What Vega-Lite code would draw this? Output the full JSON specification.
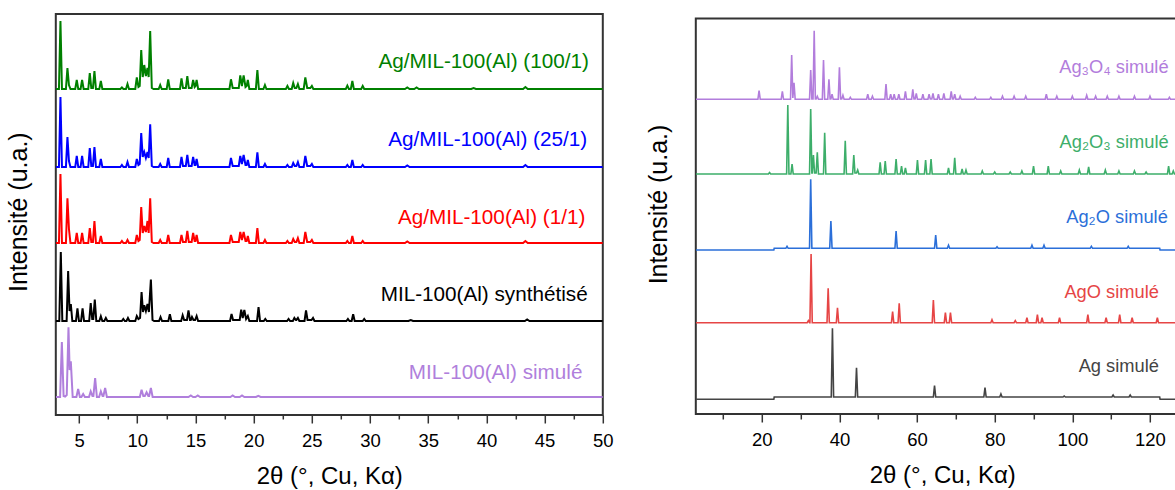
{
"$schema":"https://vega.github.io/schema/vega-lite/v6.json",
"padding":{"left":5.8,"top":13,"right":0,"bottom":0},
"spacing":93,
"bounds":"flush",
"config":{
 "font":"Liberation Sans",
 "axis":{"labelFont":"Liberation Sans","titleFont":"Liberation Sans","labelFontSize":18.5,"titleFontSize":24,"titleFontWeight":"normal","labelColor":"#000","titleColor":"#000","tickColor":"#333","tickWidth":1.5,"grid":false},
 "view":{"stroke":"#333","strokeWidth":2}
},
"datasets":{
"left":[
{"s":"g","x":3,"y":326},{"s":"g","x":3.27,"y":326},{"s":"g","x":3.4,"y":394},{"s":"g","x":3.53,"y":326},{"s":"g","x":3.87,"y":326},{"s":"g","x":4.0,"y":347},{"s":"g","x":4.13,"y":330},{"s":"g","x":4.26,"y":326},{"s":"g","x":4.67,"y":326},{"s":"g","x":4.8,"y":335},{"s":"g","x":4.93,"y":326},{"s":"g","x":5.13,"y":326},{"s":"g","x":5.26,"y":335},{"s":"g","x":5.39,"y":326},{"s":"g","x":5.79,"y":326},{"s":"g","x":5.92,"y":342},{"s":"g","x":6.05,"y":327},{"s":"g","x":6.19,"y":327},{"s":"g","x":6.32,"y":344},{"s":"g","x":6.45,"y":326},{"s":"g","x":6.74,"y":326},{"s":"g","x":6.87,"y":334},{"s":"g","x":7.0,"y":326},{"s":"g","x":8.55,"y":326},{"s":"g","x":8.68,"y":327.5},{"s":"g","x":8.81,"y":326},{"s":"g","x":9.03,"y":326},{"s":"g","x":9.16,"y":331},{"s":"g","x":9.29,"y":326},{"s":"g","x":9.83,"y":326},{"s":"g","x":9.96,"y":337.7},{"s":"g","x":10.1,"y":328},{"s":"g","x":10.21,"y":329},{"s":"g","x":10.34,"y":365},{"s":"g","x":10.47,"y":338},{"s":"g","x":10.6,"y":350},{"s":"g","x":10.74,"y":339},{"s":"g","x":10.88,"y":347},{"s":"g","x":10.98,"y":338},{"s":"g","x":11.11,"y":384},{"s":"g","x":11.25,"y":327},{"s":"g","x":11.4,"y":326},{"s":"g","x":11.84,"y":326},{"s":"g","x":11.97,"y":330},{"s":"g","x":12.1,"y":326},{"s":"g","x":12.53,"y":326},{"s":"g","x":12.66,"y":335.7},{"s":"g","x":12.79,"y":326},{"s":"g","x":13.67,"y":326},{"s":"g","x":13.8,"y":336.7},{"s":"g","x":13.93,"y":327},{"s":"g","x":14.17,"y":327},{"s":"g","x":14.3,"y":339},{"s":"g","x":14.43,"y":327},{"s":"g","x":14.67,"y":327},{"s":"g","x":14.8,"y":335},{"s":"g","x":14.93,"y":328},{"s":"g","x":15.0,"y":329},{"s":"g","x":15.1,"y":335},{"s":"g","x":15.23,"y":326},{"s":"g","x":17.92,"y":326},{"s":"g","x":18.05,"y":335.7},{"s":"g","x":18.2,"y":327},{"s":"g","x":18.72,"y":327},{"s":"g","x":18.85,"y":339.7},{"s":"g","x":18.99,"y":329},{"s":"g","x":19.14,"y":339.7},{"s":"g","x":19.3,"y":328},{"s":"g","x":19.4,"y":329},{"s":"g","x":19.5,"y":335},{"s":"g","x":19.63,"y":326},{"s":"g","x":20.19,"y":326},{"s":"g","x":20.32,"y":345},{"s":"g","x":20.45,"y":326},{"s":"g","x":20.84,"y":326},{"s":"g","x":20.97,"y":330},{"s":"g","x":21.1,"y":326},{"s":"g","x":22.77,"y":326},{"s":"g","x":22.9,"y":329},{"s":"g","x":23.03,"y":326},{"s":"g","x":23.27,"y":326},{"s":"g","x":23.4,"y":332},{"s":"g","x":23.53,"y":327},{"s":"g","x":23.67,"y":327},{"s":"g","x":23.8,"y":331},{"s":"g","x":23.93,"y":326},{"s":"g","x":24.3,"y":326},{"s":"g","x":24.44,"y":337.7},{"s":"g","x":24.6,"y":327},{"s":"g","x":24.87,"y":327},{"s":"g","x":25.0,"y":329},{"s":"g","x":25.13,"y":326},{"s":"g","x":27.92,"y":326},{"s":"g","x":28.05,"y":329.3},{"s":"g","x":28.18,"y":326},{"s":"g","x":28.35,"y":326},{"s":"g","x":28.48,"y":334},{"s":"g","x":28.61,"y":326},{"s":"g","x":29.24,"y":326},{"s":"g","x":29.37,"y":329},{"s":"g","x":29.5,"y":326},{"s":"g","x":33,"y":326},{"s":"g","x":33.2,"y":327.5},{"s":"g","x":33.4,"y":326},{"s":"g","x":33.8,"y":326},{"s":"g","x":34,"y":327.5},{"s":"g","x":34.2,"y":326},{"s":"g","x":38.7,"y":326},{"s":"g","x":38.9,"y":327},{"s":"g","x":39.1,"y":326},{"s":"g","x":43.15,"y":326},{"s":"g","x":43.35,"y":328},{"s":"g","x":43.55,"y":326},{"s":"g","x":50,"y":326},
{"s":"b","x":3,"y":248},{"s":"b","x":3.27,"y":248},{"s":"b","x":3.4,"y":318},{"s":"b","x":3.53,"y":248},{"s":"b","x":3.87,"y":248},{"s":"b","x":4.0,"y":278},{"s":"b","x":4.13,"y":254},{"s":"b","x":4.26,"y":248},{"s":"b","x":4.67,"y":248},{"s":"b","x":4.8,"y":259},{"s":"b","x":4.93,"y":248},{"s":"b","x":5.13,"y":248},{"s":"b","x":5.26,"y":259},{"s":"b","x":5.39,"y":248},{"s":"b","x":5.79,"y":248},{"s":"b","x":5.92,"y":267},{"s":"b","x":6.05,"y":249},{"s":"b","x":6.19,"y":249},{"s":"b","x":6.32,"y":268},{"s":"b","x":6.45,"y":248},{"s":"b","x":6.74,"y":248},{"s":"b","x":6.87,"y":256},{"s":"b","x":7.0,"y":248},{"s":"b","x":8.55,"y":248},{"s":"b","x":8.68,"y":250},{"s":"b","x":8.81,"y":248},{"s":"b","x":9.03,"y":248},{"s":"b","x":9.16,"y":253},{"s":"b","x":9.29,"y":248},{"s":"b","x":9.83,"y":248},{"s":"b","x":9.96,"y":256},{"s":"b","x":10.1,"y":250},{"s":"b","x":10.21,"y":251},{"s":"b","x":10.34,"y":282},{"s":"b","x":10.47,"y":258},{"s":"b","x":10.6,"y":263},{"s":"b","x":10.74,"y":257},{"s":"b","x":10.88,"y":263},{"s":"b","x":10.98,"y":257},{"s":"b","x":11.11,"y":290.7},{"s":"b","x":11.25,"y":249},{"s":"b","x":11.4,"y":248},{"s":"b","x":11.84,"y":248},{"s":"b","x":11.97,"y":251},{"s":"b","x":12.1,"y":248},{"s":"b","x":12.53,"y":248},{"s":"b","x":12.66,"y":257},{"s":"b","x":12.79,"y":248},{"s":"b","x":13.67,"y":248},{"s":"b","x":13.8,"y":258},{"s":"b","x":13.93,"y":249},{"s":"b","x":14.17,"y":249},{"s":"b","x":14.3,"y":260},{"s":"b","x":14.43,"y":249},{"s":"b","x":14.67,"y":249},{"s":"b","x":14.8,"y":258},{"s":"b","x":14.93,"y":250},{"s":"b","x":15.0,"y":250},{"s":"b","x":15.1,"y":256},{"s":"b","x":15.23,"y":248},{"s":"b","x":17.92,"y":248},{"s":"b","x":18.05,"y":257},{"s":"b","x":18.2,"y":249},{"s":"b","x":18.72,"y":249},{"s":"b","x":18.85,"y":259},{"s":"b","x":18.99,"y":251},{"s":"b","x":19.14,"y":260},{"s":"b","x":19.3,"y":250},{"s":"b","x":19.4,"y":250},{"s":"b","x":19.5,"y":255},{"s":"b","x":19.63,"y":248},{"s":"b","x":20.19,"y":248},{"s":"b","x":20.32,"y":262.7},{"s":"b","x":20.45,"y":248},{"s":"b","x":20.84,"y":248},{"s":"b","x":20.97,"y":251},{"s":"b","x":21.1,"y":248},{"s":"b","x":22.77,"y":248},{"s":"b","x":22.9,"y":250},{"s":"b","x":23.03,"y":248},{"s":"b","x":23.27,"y":248},{"s":"b","x":23.4,"y":252},{"s":"b","x":23.53,"y":249},{"s":"b","x":23.67,"y":249},{"s":"b","x":23.8,"y":253},{"s":"b","x":23.93,"y":248},{"s":"b","x":24.3,"y":248},{"s":"b","x":24.44,"y":259},{"s":"b","x":24.6,"y":249},{"s":"b","x":24.87,"y":249},{"s":"b","x":25.0,"y":251},{"s":"b","x":25.13,"y":248},{"s":"b","x":27.92,"y":248},{"s":"b","x":28.05,"y":250},{"s":"b","x":28.18,"y":248},{"s":"b","x":28.35,"y":248},{"s":"b","x":28.48,"y":255},{"s":"b","x":28.61,"y":248},{"s":"b","x":29.24,"y":248},{"s":"b","x":29.37,"y":250},{"s":"b","x":29.5,"y":248},{"s":"b","x":33,"y":248},{"s":"b","x":33.2,"y":249.5},{"s":"b","x":33.4,"y":248},{"s":"b","x":43.15,"y":248},{"s":"b","x":43.35,"y":250},{"s":"b","x":43.55,"y":248},{"s":"b","x":50,"y":248},
{"s":"r","x":3,"y":172},{"s":"r","x":3.27,"y":172},{"s":"r","x":3.4,"y":241},{"s":"r","x":3.53,"y":172},{"s":"r","x":3.87,"y":172},{"s":"r","x":4.0,"y":216.7},{"s":"r","x":4.13,"y":186},{"s":"r","x":4.26,"y":172},{"s":"r","x":4.67,"y":172},{"s":"r","x":4.8,"y":182},{"s":"r","x":4.93,"y":172},{"s":"r","x":5.13,"y":172},{"s":"r","x":5.26,"y":182},{"s":"r","x":5.39,"y":172},{"s":"r","x":5.79,"y":172},{"s":"r","x":5.92,"y":187},{"s":"r","x":6.05,"y":173},{"s":"r","x":6.19,"y":173},{"s":"r","x":6.32,"y":194},{"s":"r","x":6.45,"y":172},{"s":"r","x":6.74,"y":172},{"s":"r","x":6.87,"y":179},{"s":"r","x":7.0,"y":172},{"s":"r","x":8.55,"y":172},{"s":"r","x":8.68,"y":174},{"s":"r","x":8.81,"y":172},{"s":"r","x":9.03,"y":172},{"s":"r","x":9.16,"y":175},{"s":"r","x":9.29,"y":172},{"s":"r","x":9.83,"y":172},{"s":"r","x":9.96,"y":180},{"s":"r","x":10.1,"y":174},{"s":"r","x":10.21,"y":175},{"s":"r","x":10.34,"y":208},{"s":"r","x":10.47,"y":182},{"s":"r","x":10.6,"y":189},{"s":"r","x":10.74,"y":183},{"s":"r","x":10.88,"y":194},{"s":"r","x":10.98,"y":182},{"s":"r","x":11.11,"y":216.7},{"s":"r","x":11.25,"y":173},{"s":"r","x":11.4,"y":172},{"s":"r","x":11.84,"y":172},{"s":"r","x":11.97,"y":175},{"s":"r","x":12.1,"y":172},{"s":"r","x":12.53,"y":172},{"s":"r","x":12.66,"y":180},{"s":"r","x":12.79,"y":172},{"s":"r","x":13.67,"y":172},{"s":"r","x":13.8,"y":180},{"s":"r","x":13.93,"y":173},{"s":"r","x":14.17,"y":173},{"s":"r","x":14.3,"y":184},{"s":"r","x":14.43,"y":173},{"s":"r","x":14.67,"y":173},{"s":"r","x":14.8,"y":182},{"s":"r","x":14.93,"y":174},{"s":"r","x":15.0,"y":174},{"s":"r","x":15.1,"y":180},{"s":"r","x":15.23,"y":172},{"s":"r","x":17.92,"y":172},{"s":"r","x":18.05,"y":180},{"s":"r","x":18.2,"y":173},{"s":"r","x":18.72,"y":173},{"s":"r","x":18.85,"y":183},{"s":"r","x":18.99,"y":175},{"s":"r","x":19.14,"y":183},{"s":"r","x":19.3,"y":174},{"s":"r","x":19.4,"y":174},{"s":"r","x":19.5,"y":179},{"s":"r","x":19.63,"y":172},{"s":"r","x":20.19,"y":172},{"s":"r","x":20.32,"y":187},{"s":"r","x":20.45,"y":172},{"s":"r","x":20.84,"y":172},{"s":"r","x":20.97,"y":175},{"s":"r","x":21.1,"y":172},{"s":"r","x":22.77,"y":172},{"s":"r","x":22.9,"y":174},{"s":"r","x":23.03,"y":172},{"s":"r","x":23.27,"y":172},{"s":"r","x":23.4,"y":176},{"s":"r","x":23.53,"y":173},{"s":"r","x":23.67,"y":173},{"s":"r","x":23.8,"y":177},{"s":"r","x":23.93,"y":172},{"s":"r","x":24.3,"y":172},{"s":"r","x":24.44,"y":183},{"s":"r","x":24.6,"y":173},{"s":"r","x":24.87,"y":173},{"s":"r","x":25.0,"y":175},{"s":"r","x":25.13,"y":172},{"s":"r","x":27.92,"y":172},{"s":"r","x":28.05,"y":174},{"s":"r","x":28.18,"y":172},{"s":"r","x":28.35,"y":172},{"s":"r","x":28.48,"y":179},{"s":"r","x":28.61,"y":172},{"s":"r","x":29.24,"y":172},{"s":"r","x":29.37,"y":174},{"s":"r","x":29.5,"y":172},{"s":"r","x":33,"y":172},{"s":"r","x":33.2,"y":173.5},{"s":"r","x":33.4,"y":172},{"s":"r","x":43.15,"y":172},{"s":"r","x":43.35,"y":174},{"s":"r","x":43.55,"y":172},{"s":"r","x":50,"y":172},
{"s":"k","x":3,"y":94},{"s":"k","x":3.3,"y":94},{"s":"k","x":3.43,"y":163},{"s":"k","x":3.56,"y":94},{"s":"k","x":3.93,"y":94},{"s":"k","x":4.06,"y":144},{"s":"k","x":4.18,"y":104},{"s":"k","x":4.29,"y":111},{"s":"k","x":4.42,"y":94},{"s":"k","x":4.73,"y":94},{"s":"k","x":4.86,"y":106.7},{"s":"k","x":4.99,"y":94},{"s":"k","x":5.17,"y":94},{"s":"k","x":5.3,"y":106.7},{"s":"k","x":5.43,"y":94},{"s":"k","x":5.87,"y":94},{"s":"k","x":6.0,"y":112},{"s":"k","x":6.13,"y":96},{"s":"k","x":6.22,"y":96},{"s":"k","x":6.35,"y":115.4},{"s":"k","x":6.48,"y":94},{"s":"k","x":6.74,"y":94},{"s":"k","x":6.87,"y":98.7},{"s":"k","x":7.0,"y":94},{"s":"k","x":7.17,"y":94},{"s":"k","x":7.3,"y":97},{"s":"k","x":7.43,"y":94},{"s":"k","x":8.67,"y":94},{"s":"k","x":8.8,"y":96},{"s":"k","x":8.93,"y":94},{"s":"k","x":9.07,"y":94},{"s":"k","x":9.2,"y":97},{"s":"k","x":9.33,"y":94},{"s":"k","x":9.83,"y":94},{"s":"k","x":9.96,"y":99},{"s":"k","x":10.1,"y":96},{"s":"k","x":10.24,"y":97},{"s":"k","x":10.37,"y":123},{"s":"k","x":10.49,"y":103},{"s":"k","x":10.6,"y":109.7},{"s":"k","x":10.74,"y":104},{"s":"k","x":10.88,"y":111},{"s":"k","x":11.0,"y":103},{"s":"k","x":11.17,"y":135.4},{"s":"k","x":11.31,"y":95},{"s":"k","x":11.45,"y":94},{"s":"k","x":11.87,"y":94},{"s":"k","x":12.0,"y":98},{"s":"k","x":12.13,"y":94},{"s":"k","x":12.67,"y":94},{"s":"k","x":12.8,"y":100.7},{"s":"k","x":12.93,"y":94},{"s":"k","x":13.77,"y":94},{"s":"k","x":13.9,"y":99.7},{"s":"k","x":14.03,"y":95},{"s":"k","x":14.27,"y":95},{"s":"k","x":14.4,"y":104.7},{"s":"k","x":14.53,"y":95},{"s":"k","x":14.6,"y":95},{"s":"k","x":14.7,"y":98},{"s":"k","x":14.83,"y":95},{"s":"k","x":14.97,"y":95},{"s":"k","x":15.1,"y":99},{"s":"k","x":15.23,"y":94},{"s":"k","x":17.97,"y":94},{"s":"k","x":18.1,"y":101},{"s":"k","x":18.23,"y":95},{"s":"k","x":18.8,"y":95},{"s":"k","x":18.93,"y":105.3},{"s":"k","x":19.06,"y":97},{"s":"k","x":19.2,"y":105},{"s":"k","x":19.35,"y":96},{"s":"k","x":19.5,"y":99},{"s":"k","x":19.63,"y":94},{"s":"k","x":20.29,"y":94},{"s":"k","x":20.42,"y":108},{"s":"k","x":20.55,"y":94},{"s":"k","x":20.87,"y":94},{"s":"k","x":21.0,"y":96},{"s":"k","x":21.13,"y":94},{"s":"k","x":22.87,"y":94},{"s":"k","x":23.0,"y":96},{"s":"k","x":23.13,"y":94},{"s":"k","x":23.37,"y":94},{"s":"k","x":23.5,"y":97},{"s":"k","x":23.63,"y":95},{"s":"k","x":23.67,"y":95},{"s":"k","x":23.8,"y":97},{"s":"k","x":23.93,"y":94},{"s":"k","x":24.37,"y":94},{"s":"k","x":24.5,"y":104.7},{"s":"k","x":24.63,"y":95},{"s":"k","x":24.97,"y":95},{"s":"k","x":25.1,"y":97},{"s":"k","x":25.23,"y":94},{"s":"k","x":27.97,"y":94},{"s":"k","x":28.1,"y":96},{"s":"k","x":28.23,"y":94},{"s":"k","x":28.42,"y":94},{"s":"k","x":28.55,"y":100.7},{"s":"k","x":28.68,"y":94},{"s":"k","x":29.37,"y":94},{"s":"k","x":29.5,"y":96},{"s":"k","x":29.63,"y":94},{"s":"k","x":33.3,"y":94},{"s":"k","x":33.5,"y":95},{"s":"k","x":33.7,"y":94},{"s":"k","x":43.3,"y":94},{"s":"k","x":43.5,"y":95.5},{"s":"k","x":43.7,"y":94},{"s":"k","x":50,"y":94},
{"s":"p","x":3,"y":18},{"s":"p","x":3.37,"y":18},{"s":"p","x":3.52,"y":73},{"s":"p","x":3.67,"y":19},{"s":"p","x":3.8,"y":18.5},{"s":"p","x":3.94,"y":20},{"s":"p","x":4.09,"y":87.7},{"s":"p","x":4.19,"y":45},{"s":"p","x":4.29,"y":53.6},{"s":"p","x":4.45,"y":18},{"s":"p","x":4.77,"y":18},{"s":"p","x":4.92,"y":26},{"s":"p","x":5.07,"y":18},{"s":"p","x":5.2,"y":18},{"s":"p","x":5.35,"y":21},{"s":"p","x":5.5,"y":18},{"s":"p","x":5.85,"y":18},{"s":"p","x":6.0,"y":23.6},{"s":"p","x":6.15,"y":19},{"s":"p","x":6.23,"y":19},{"s":"p","x":6.38,"y":37},{"s":"p","x":6.53,"y":18},{"s":"p","x":6.72,"y":18},{"s":"p","x":6.87,"y":23.7},{"s":"p","x":7.02,"y":19},{"s":"p","x":7.09,"y":19},{"s":"p","x":7.24,"y":27},{"s":"p","x":7.39,"y":18},{"s":"p","x":10.22,"y":18},{"s":"p","x":10.37,"y":25.3},{"s":"p","x":10.52,"y":19},{"s":"p","x":10.65,"y":19},{"s":"p","x":10.8,"y":22.6},{"s":"p","x":10.95,"y":19},{"s":"p","x":11.02,"y":19},{"s":"p","x":11.17,"y":27},{"s":"p","x":11.32,"y":18},{"s":"p","x":14.4,"y":18},{"s":"p","x":14.6,"y":19.5},{"s":"p","x":14.8,"y":18},{"s":"p","x":15.0,"y":18},{"s":"p","x":15.2,"y":19.5},{"s":"p","x":15.4,"y":18},{"s":"p","x":18.0,"y":18},{"s":"p","x":18.2,"y":19.5},{"s":"p","x":18.4,"y":18},{"s":"p","x":18.8,"y":18},{"s":"p","x":19.0,"y":19.5},{"s":"p","x":19.2,"y":18},{"s":"p","x":20.2,"y":18},{"s":"p","x":20.4,"y":19.2},{"s":"p","x":20.6,"y":18},{"s":"p","x":50,"y":18}
],
"right":[
{"s":"a4","x":3,"y":314.7},{"s":"a4","x":19.0,"y":314.7},{"s":"a4","x":19.3,"y":323.3},{"s":"a4","x":19.6,"y":314.7},{"s":"a4","x":25.0,"y":314.7},{"s":"a4","x":25.3,"y":322.7},{"s":"a4","x":25.6,"y":314.7},{"s":"a4","x":27.4,"y":314.7},{"s":"a4","x":27.7,"y":359},{"s":"a4","x":28.0,"y":316},{"s":"a4","x":28.3,"y":331.3},{"s":"a4","x":28.6,"y":314.7},{"s":"a4","x":32.3,"y":314.7},{"s":"a4","x":32.6,"y":344},{"s":"a4","x":32.9,"y":315},{"s":"a4","x":33.2,"y":315},{"s":"a4","x":33.5,"y":383.3},{"s":"a4","x":33.8,"y":315},{"s":"a4","x":34.0,"y":315},{"s":"a4","x":34.3,"y":317.7},{"s":"a4","x":34.6,"y":314.7},{"s":"a4","x":35.6,"y":314.7},{"s":"a4","x":35.9,"y":354},{"s":"a4","x":36.2,"y":314.7},{"s":"a4","x":37.0,"y":314.7},{"s":"a4","x":37.3,"y":334.7},{"s":"a4","x":37.6,"y":315},{"s":"a4","x":37.8,"y":315},{"s":"a4","x":38.1,"y":319.7},{"s":"a4","x":38.4,"y":314.7},{"s":"a4","x":39.7,"y":314.7},{"s":"a4","x":40.0,"y":346.7},{"s":"a4","x":40.3,"y":315},{"s":"a4","x":40.6,"y":315},{"s":"a4","x":40.9,"y":318.7},{"s":"a4","x":41.2,"y":314.7},{"s":"a4","x":42.5,"y":314.7},{"s":"a4","x":42.8,"y":316.7},{"s":"a4","x":43.1,"y":314.7},{"s":"a4","x":47.0,"y":314.7},{"s":"a4","x":47.3,"y":319.7},{"s":"a4","x":47.6,"y":314.7},{"s":"a4","x":48.2,"y":314.7},{"s":"a4","x":48.5,"y":317.7},{"s":"a4","x":48.8,"y":314.7},{"s":"a4","x":51.7,"y":314.7},{"s":"a4","x":52.0,"y":330},{"s":"a4","x":52.3,"y":314.7},{"s":"a4","x":52.9,"y":314.7},{"s":"a4","x":53.2,"y":319.7},{"s":"a4","x":53.5,"y":314.7},{"s":"a4","x":53.8,"y":314.7},{"s":"a4","x":54.1,"y":319.7},{"s":"a4","x":54.4,"y":314.7},{"s":"a4","x":55.0,"y":314.7},{"s":"a4","x":55.3,"y":319.7},{"s":"a4","x":55.6,"y":314.7},{"s":"a4","x":56.7,"y":314.7},{"s":"a4","x":57.0,"y":322.7},{"s":"a4","x":57.3,"y":314.7},{"s":"a4","x":58.6,"y":314.7},{"s":"a4","x":58.9,"y":324.7},{"s":"a4","x":59.2,"y":315},{"s":"a4","x":59.5,"y":315},{"s":"a4","x":59.8,"y":320.7},{"s":"a4","x":60.1,"y":314.7},{"s":"a4","x":61.2,"y":314.7},{"s":"a4","x":61.5,"y":319.7},{"s":"a4","x":61.8,"y":314.7},{"s":"a4","x":62.8,"y":314.7},{"s":"a4","x":63.1,"y":319.7},{"s":"a4","x":63.4,"y":315},{"s":"a4","x":63.8,"y":315},{"s":"a4","x":64.1,"y":320.7},{"s":"a4","x":64.4,"y":314.7},{"s":"a4","x":65.2,"y":314.7},{"s":"a4","x":65.5,"y":319.7},{"s":"a4","x":65.8,"y":314.7},{"s":"a4","x":66.6,"y":314.7},{"s":"a4","x":66.9,"y":320.7},{"s":"a4","x":67.2,"y":314.7},{"s":"a4","x":68.5,"y":314.7},{"s":"a4","x":68.8,"y":322.7},{"s":"a4","x":69.1,"y":315},{"s":"a4","x":69.4,"y":315},{"s":"a4","x":69.7,"y":319.7},{"s":"a4","x":70.0,"y":314.7},{"s":"a4","x":70.8,"y":314.7},{"s":"a4","x":71.1,"y":317.7},{"s":"a4","x":71.4,"y":314.7},{"s":"a4","x":74.7,"y":314.7},{"s":"a4","x":75,"y":316.7},{"s":"a4","x":75.3,"y":314.7},{"s":"a4","x":78.7,"y":314.7},{"s":"a4","x":79,"y":316.7},{"s":"a4","x":79.3,"y":314.7},{"s":"a4","x":81.7,"y":314.7},{"s":"a4","x":82,"y":317.7},{"s":"a4","x":82.3,"y":314.7},{"s":"a4","x":84.7,"y":314.7},{"s":"a4","x":85,"y":317.7},{"s":"a4","x":85.3,"y":314.7},{"s":"a4","x":87.7,"y":314.7},{"s":"a4","x":88,"y":317.7},{"s":"a4","x":88.3,"y":314.7},{"s":"a4","x":93.0,"y":314.7},{"s":"a4","x":93.3,"y":319.7},{"s":"a4","x":93.6,"y":314.7},{"s":"a4","x":95.7,"y":314.7},{"s":"a4","x":96,"y":317.7},{"s":"a4","x":96.3,"y":314.7},{"s":"a4","x":99.7,"y":314.7},{"s":"a4","x":100,"y":317.7},{"s":"a4","x":100.3,"y":314.7},{"s":"a4","x":103.4,"y":314.7},{"s":"a4","x":103.7,"y":318.7},{"s":"a4","x":104.0,"y":314.7},{"s":"a4","x":105.7,"y":314.7},{"s":"a4","x":106,"y":317.7},{"s":"a4","x":106.3,"y":314.7},{"s":"a4","x":108.7,"y":314.7},{"s":"a4","x":109,"y":317.7},{"s":"a4","x":109.3,"y":314.7},{"s":"a4","x":111.7,"y":314.7},{"s":"a4","x":112,"y":317.7},{"s":"a4","x":112.3,"y":314.7},{"s":"a4","x":115.7,"y":314.7},{"s":"a4","x":116,"y":317.7},{"s":"a4","x":116.3,"y":314.7},{"s":"a4","x":119.7,"y":314.7},{"s":"a4","x":120,"y":317.7},{"s":"a4","x":120.3,"y":314.7},{"s":"a4","x":124.7,"y":314.7},{"s":"a4","x":125,"y":316.7},{"s":"a4","x":125.3,"y":314.7},{"s":"a4","x":130,"y":314.7},
{"s":"a3","x":3,"y":240},{"s":"a3","x":21.7,"y":240},{"s":"a3","x":22.0,"y":241.5},{"s":"a3","x":22.3,"y":240},{"s":"a3","x":26.4,"y":240},{"s":"a3","x":26.7,"y":309},{"s":"a3","x":27.0,"y":240},{"s":"a3","x":27.5,"y":240},{"s":"a3","x":27.8,"y":250},{"s":"a3","x":28.1,"y":240},{"s":"a3","x":32.3,"y":240},{"s":"a3","x":32.6,"y":305},{"s":"a3","x":32.9,"y":241},{"s":"a3","x":33.0,"y":241},{"s":"a3","x":33.3,"y":259},{"s":"a3","x":33.6,"y":241},{"s":"a3","x":34.0,"y":241},{"s":"a3","x":34.3,"y":261.7},{"s":"a3","x":34.6,"y":240},{"s":"a3","x":35.9,"y":240},{"s":"a3","x":36.2,"y":281.3},{"s":"a3","x":36.5,"y":240},{"s":"a3","x":41.2,"y":240},{"s":"a3","x":41.5,"y":273.3},{"s":"a3","x":41.8,"y":240},{"s":"a3","x":43.4,"y":240},{"s":"a3","x":43.7,"y":259},{"s":"a3","x":44.0,"y":241},{"s":"a3","x":44.4,"y":241},{"s":"a3","x":44.7,"y":244},{"s":"a3","x":45.0,"y":240},{"s":"a3","x":50.2,"y":240},{"s":"a3","x":50.5,"y":251.7},{"s":"a3","x":50.8,"y":240},{"s":"a3","x":51.5,"y":240},{"s":"a3","x":51.8,"y":253},{"s":"a3","x":52.1,"y":240},{"s":"a3","x":54.3,"y":240},{"s":"a3","x":54.6,"y":255},{"s":"a3","x":54.9,"y":240},{"s":"a3","x":55.7,"y":240},{"s":"a3","x":56.0,"y":248},{"s":"a3","x":56.3,"y":240},{"s":"a3","x":56.7,"y":240},{"s":"a3","x":57.0,"y":246},{"s":"a3","x":57.3,"y":240},{"s":"a3","x":59.8,"y":240},{"s":"a3","x":60.1,"y":254},{"s":"a3","x":60.4,"y":240},{"s":"a3","x":61.9,"y":240},{"s":"a3","x":62.2,"y":254},{"s":"a3","x":62.5,"y":240},{"s":"a3","x":63.3,"y":240},{"s":"a3","x":63.6,"y":255},{"s":"a3","x":63.9,"y":240},{"s":"a3","x":67.8,"y":240},{"s":"a3","x":68.1,"y":246},{"s":"a3","x":68.4,"y":240},{"s":"a3","x":69.4,"y":240},{"s":"a3","x":69.7,"y":256.3},{"s":"a3","x":70.0,"y":240},{"s":"a3","x":71.3,"y":240},{"s":"a3","x":71.6,"y":245},{"s":"a3","x":71.9,"y":240},{"s":"a3","x":72.3,"y":240},{"s":"a3","x":72.6,"y":244},{"s":"a3","x":72.9,"y":240},{"s":"a3","x":76.5,"y":240},{"s":"a3","x":76.8,"y":243},{"s":"a3","x":77.1,"y":240},{"s":"a3","x":79.7,"y":240},{"s":"a3","x":80,"y":242},{"s":"a3","x":80.3,"y":240},{"s":"a3","x":83.7,"y":240},{"s":"a3","x":84,"y":242},{"s":"a3","x":84.3,"y":240},{"s":"a3","x":86.7,"y":240},{"s":"a3","x":87,"y":243},{"s":"a3","x":87.3,"y":240},{"s":"a3","x":89.7,"y":240},{"s":"a3","x":90.0,"y":248},{"s":"a3","x":90.3,"y":240},{"s":"a3","x":93.5,"y":240},{"s":"a3","x":93.8,"y":248},{"s":"a3","x":94.1,"y":240},{"s":"a3","x":96.7,"y":240},{"s":"a3","x":97,"y":243},{"s":"a3","x":97.3,"y":240},{"s":"a3","x":101.5,"y":240},{"s":"a3","x":101.8,"y":244},{"s":"a3","x":102.1,"y":240},{"s":"a3","x":103.9,"y":240},{"s":"a3","x":104.2,"y":247},{"s":"a3","x":104.5,"y":240},{"s":"a3","x":108.2,"y":240},{"s":"a3","x":108.5,"y":244},{"s":"a3","x":108.8,"y":240},{"s":"a3","x":111.7,"y":240},{"s":"a3","x":112,"y":243},{"s":"a3","x":112.3,"y":240},{"s":"a3","x":115.7,"y":240},{"s":"a3","x":116,"y":243},{"s":"a3","x":116.3,"y":240},{"s":"a3","x":118.7,"y":240},{"s":"a3","x":119,"y":242},{"s":"a3","x":119.3,"y":240},{"s":"a3","x":124.5,"y":240},{"s":"a3","x":124.8,"y":248},{"s":"a3","x":125.1,"y":240},{"s":"a3","x":125.7,"y":240},{"s":"a3","x":126,"y":243},{"s":"a3","x":126.3,"y":240},{"s":"a3","x":130,"y":240},
{"s":"a2","x":3,"y":164},{"s":"a2","x":23.1,"y":164},{"s":"a2","x":23.2,"y":165.7},{"s":"a2","x":26.2,"y":165.7},{"s":"a2","x":26.5,"y":167.7},{"s":"a2","x":26.8,"y":165.7},{"s":"a2","x":32.3,"y":165.7},{"s":"a2","x":32.6,"y":234.7},{"s":"a2","x":32.9,"y":165.7},{"s":"a2","x":37.5,"y":165.7},{"s":"a2","x":37.8,"y":193},{"s":"a2","x":38.1,"y":165.7},{"s":"a2","x":54.3,"y":165.7},{"s":"a2","x":54.6,"y":183},{"s":"a2","x":54.9,"y":165.7},{"s":"a2","x":64.5,"y":165.7},{"s":"a2","x":64.8,"y":179},{"s":"a2","x":65.1,"y":165.7},{"s":"a2","x":67.8,"y":165.7},{"s":"a2","x":68.1,"y":168.7},{"s":"a2","x":68.4,"y":165.7},{"s":"a2","x":80.3,"y":165.7},{"s":"a2","x":80.6,"y":167.2},{"s":"a2","x":80.9,"y":165.7},{"s":"a2","x":89.3,"y":165.7},{"s":"a2","x":89.6,"y":168.7},{"s":"a2","x":89.9,"y":165.7},{"s":"a2","x":92.4,"y":165.7},{"s":"a2","x":92.7,"y":168.7},{"s":"a2","x":93.0,"y":165.7},{"s":"a2","x":104.6,"y":165.7},{"s":"a2","x":104.9,"y":167.7},{"s":"a2","x":105.2,"y":165.7},{"s":"a2","x":114.1,"y":165.7},{"s":"a2","x":114.4,"y":167.7},{"s":"a2","x":114.7,"y":165.7},{"s":"a2","x":122.5,"y":165.7},{"s":"a2","x":122.6,"y":164},{"s":"a2","x":130,"y":164},
{"s":"ao","x":3,"y":91.3},{"s":"ao","x":31.7,"y":91.3},{"s":"ao","x":32.0,"y":93.3},{"s":"ao","x":32.3,"y":91.3},{"s":"ao","x":32.4,"y":91.3},{"s":"ao","x":32.7,"y":160},{"s":"ao","x":33.0,"y":91.3},{"s":"ao","x":36.8,"y":91.3},{"s":"ao","x":37.1,"y":125.7},{"s":"ao","x":37.4,"y":91.3},{"s":"ao","x":39.2,"y":91.3},{"s":"ao","x":39.5,"y":106.3},{"s":"ao","x":39.8,"y":91.3},{"s":"ao","x":53.4,"y":91.3},{"s":"ao","x":53.7,"y":102.3},{"s":"ao","x":54.0,"y":91.3},{"s":"ao","x":55.1,"y":91.3},{"s":"ao","x":55.4,"y":110.7},{"s":"ao","x":55.7,"y":91.3},{"s":"ao","x":63.9,"y":91.3},{"s":"ao","x":64.2,"y":114},{"s":"ao","x":64.5,"y":91.3},{"s":"ao","x":67.0,"y":91.3},{"s":"ao","x":67.3,"y":101.3},{"s":"ao","x":67.6,"y":91.3},{"s":"ao","x":68.3,"y":91.3},{"s":"ao","x":68.6,"y":101.3},{"s":"ao","x":68.9,"y":91.3},{"s":"ao","x":79.0,"y":91.3},{"s":"ao","x":79.3,"y":94.3},{"s":"ao","x":79.6,"y":91.3},{"s":"ao","x":85.0,"y":91.3},{"s":"ao","x":85.3,"y":93.3},{"s":"ao","x":85.6,"y":91.3},{"s":"ao","x":88.0,"y":91.3},{"s":"ao","x":88.3,"y":96.3},{"s":"ao","x":88.6,"y":91.3},{"s":"ao","x":90.7,"y":91.3},{"s":"ao","x":91.0,"y":99.3},{"s":"ao","x":91.3,"y":91.3},{"s":"ao","x":91.9,"y":91.3},{"s":"ao","x":92.2,"y":96.3},{"s":"ao","x":92.5,"y":91.3},{"s":"ao","x":96.4,"y":91.3},{"s":"ao","x":96.7,"y":96.3},{"s":"ao","x":97.0,"y":91.3},{"s":"ao","x":103.7,"y":91.3},{"s":"ao","x":104.0,"y":99.3},{"s":"ao","x":104.3,"y":91.3},{"s":"ao","x":108.4,"y":91.3},{"s":"ao","x":108.7,"y":96.3},{"s":"ao","x":109.0,"y":91.3},{"s":"ao","x":111.9,"y":91.3},{"s":"ao","x":112.2,"y":99.3},{"s":"ao","x":112.5,"y":91.3},{"s":"ao","x":115.1,"y":91.3},{"s":"ao","x":115.4,"y":96.3},{"s":"ao","x":115.7,"y":91.3},{"s":"ao","x":121.6,"y":91.3},{"s":"ao","x":121.9,"y":96.3},{"s":"ao","x":122.2,"y":91.3},{"s":"ao","x":130,"y":91.3},
{"s":"ag","x":3,"y":14.7},{"s":"ag","x":23.1,"y":14.7},{"s":"ag","x":23.2,"y":17},{"s":"ag","x":37.9,"y":17},{"s":"ag","x":38.2,"y":85.7},{"s":"ag","x":38.5,"y":17},{"s":"ag","x":44.1,"y":17},{"s":"ag","x":44.4,"y":46.3},{"s":"ag","x":44.7,"y":17},{"s":"ag","x":64.2,"y":17},{"s":"ag","x":64.5,"y":28.3},{"s":"ag","x":64.8,"y":17},{"s":"ag","x":77.2,"y":17},{"s":"ag","x":77.5,"y":26.3},{"s":"ag","x":77.8,"y":17},{"s":"ag","x":81.3,"y":17},{"s":"ag","x":81.6,"y":20},{"s":"ag","x":81.9,"y":17},{"s":"ag","x":97.6,"y":17},{"s":"ag","x":97.9,"y":18},{"s":"ag","x":98.2,"y":17},{"s":"ag","x":110.2,"y":17},{"s":"ag","x":110.5,"y":19},{"s":"ag","x":110.8,"y":17},{"s":"ag","x":114.6,"y":17},{"s":"ag","x":114.9,"y":19},{"s":"ag","x":115.2,"y":17},{"s":"ag","x":122.5,"y":17},{"s":"ag","x":122.6,"y":14.7},{"s":"ag","x":130,"y":14.7}
],
"leftLabels":[
{"s":"g","label":"Ag/MIL-100(Al) (100/1)","x":48.8,"y":353},
{"s":"b","label":"Ag/MIL-100(Al) (25/1)","x":48.65,"y":275},
{"s":"r","label":"Ag/MIL-100(Al) (1/1)","x":48.5,"y":197},
{"s":"k","label":"MIL-100(Al) synthétisé","x":48.7,"y":120},
{"s":"p","label":"MIL-100(Al) simulé","x":48.25,"y":42}
],
"rightLabels":[
{"s":"a4","label":"Ag₃O₄ simulé","x":124.8,"y":346},
{"s":"a3","label":"Ag₂O₃ simulé","x":124.8,"y":270.7},
{"s":"a2","label":"Ag₂O simulé","x":124.6,"y":195.7},
{"s":"ao","label":"AgO simulé","x":122.3,"y":120.7},
{"s":"ag","label":"Ag simulé","x":122.3,"y":47.3}
]
},
"hconcat":[
{
 "width":547,"height":401,
 "layer":[
  {"data":{"name":"left"},"mark":{"type":"line","strokeWidth":2,"clip":true},
   "encoding":{
    "x":{"field":"x","type":"quantitative","scale":{"domain":[3,50],"nice":false,"zero":false},
         "axis":{"values":[5,10,15,20,25,30,35,40,45,50],"title":"2θ (°, Cu, Kα)","tickSize":8,"labelPadding":9,"titlePadding":14,"domain":false,"orient":"bottom","labelFlush":false}},
    "y":{"field":"y","type":"quantitative","scale":{"domain":[0,401],"nice":false,"zero":false},
         "axis":{"title":"Intensité (u.a.)","labels":false,"ticks":false,"domain":false,"titlePadding":24,"titleFontSize":25,"titleY":197.7}},
    "color":{"field":"s","type":"nominal","scale":{"domain":["g","b","r","k","p","a4","a3","a2","ao","ag"],"range":["#008000","#0000ff","#ff0000","#000000","#b07fdc","#b27ddc","#3dae6a","#2b6fd9","#e64545","#444444"]},"legend":null}
   }},
  {"data":{"name":"leftLabels"},"mark":{"type":"text","align":"right","baseline":"middle","fontSize":20.7,"font":"Liberation Sans"},
   "encoding":{
    "x":{"field":"x","type":"quantitative","scale":{"domain":[3,50],"nice":false,"zero":false},
         "axis":{"values":[7.5,12.5,17.5,22.5,27.5,32.5,37.5,42.5,47.5],"labels":false,"tickSize":4,"title":null,"domain":false,"orient":"bottom"}},
    "y":{"field":"y","type":"quantitative","scale":{"domain":[0,401],"nice":false,"zero":false},
         "axis":{"title":"Intensité (u.a.)","labels":false,"ticks":false,"domain":false,"titlePadding":24,"titleFontSize":25,"titleY":197.7}},
    "text":{"field":"label"},
    "color":{"field":"s","type":"nominal","scale":{"domain":["g","b","r","k","p","a4","a3","a2","ao","ag"],"range":["#008000","#0000ff","#ff0000","#000000","#b07fdc","#b27ddc","#3dae6a","#2b6fd9","#e64545","#444444"]},"legend":null}
   }}
 ],
 "resolve":{"axis":{"x":"independent"}}
},
{
 "vconcat":[
  {"width":493,"height":1,"data":{"values":[{"a":0}]},"mark":{"type":"point","opacity":0,"size":0,"strokeWidth":0},"view":{"stroke":null}},
  {
   "width":493,"height":395.5,
   "layer":[
    {"data":{"name":"right"},"mark":{"type":"line","strokeWidth":1.6,"clip":true},
     "encoding":{
      "x":{"field":"x","type":"quantitative","scale":{"domain":[3,130],"nice":false,"zero":false},
           "axis":{"values":[20,40,60,80,100,120],"title":"2θ (°, Cu, Kα)","tickSize":8,"labelPadding":9,"titlePadding":14,"domain":false,"orient":"bottom","labelFlush":false}},
      "y":{"field":"y","type":"quantitative","scale":{"domain":[0,395.5],"nice":false,"zero":false},
           "axis":{"title":"Intensité (u.a.)","labels":false,"ticks":false,"domain":false,"titlePadding":24,"titleFontSize":25,"titleY":185.5}},
      "color":{"field":"s","type":"nominal","scale":{"domain":["g","b","r","k","p","a4","a3","a2","ao","ag"],"range":["#008000","#0000ff","#ff0000","#000000","#b07fdc","#b27ddc","#3dae6a","#2b6fd9","#e64545","#444444"]},"legend":null}
     }},
    {"data":{"name":"rightLabels"},"mark":{"type":"text","align":"right","baseline":"middle","fontSize":18.3,"font":"Liberation Sans"},
     "encoding":{
      "x":{"field":"x","type":"quantitative","scale":{"domain":[3,130],"nice":false,"zero":false},
           "axis":{"values":[10,30,50,70,90,110,130],"labels":false,"tickSize":5,"title":null,"domain":false,"orient":"bottom"}},
      "y":{"field":"y","type":"quantitative","scale":{"domain":[0,395.5],"nice":false,"zero":false},
           "axis":{"title":"Intensité (u.a.)","labels":false,"ticks":false,"domain":false,"titlePadding":24,"titleFontSize":25,"titleY":185.5}},
      "text":{"field":"label"},
      "color":{"field":"s","type":"nominal","scale":{"domain":["g","b","r","k","p","a4","a3","a2","ao","ag"],"range":["#008000","#0000ff","#ff0000","#000000","#b07fdc","#b27ddc","#3dae6a","#2b6fd9","#e64545","#444444"]},"legend":null}
     }}
   ],
   "resolve":{"axis":{"x":"independent"}}
  }
 ],
 "spacing":3.5,
 "bounds":"flush"
}
]
}
